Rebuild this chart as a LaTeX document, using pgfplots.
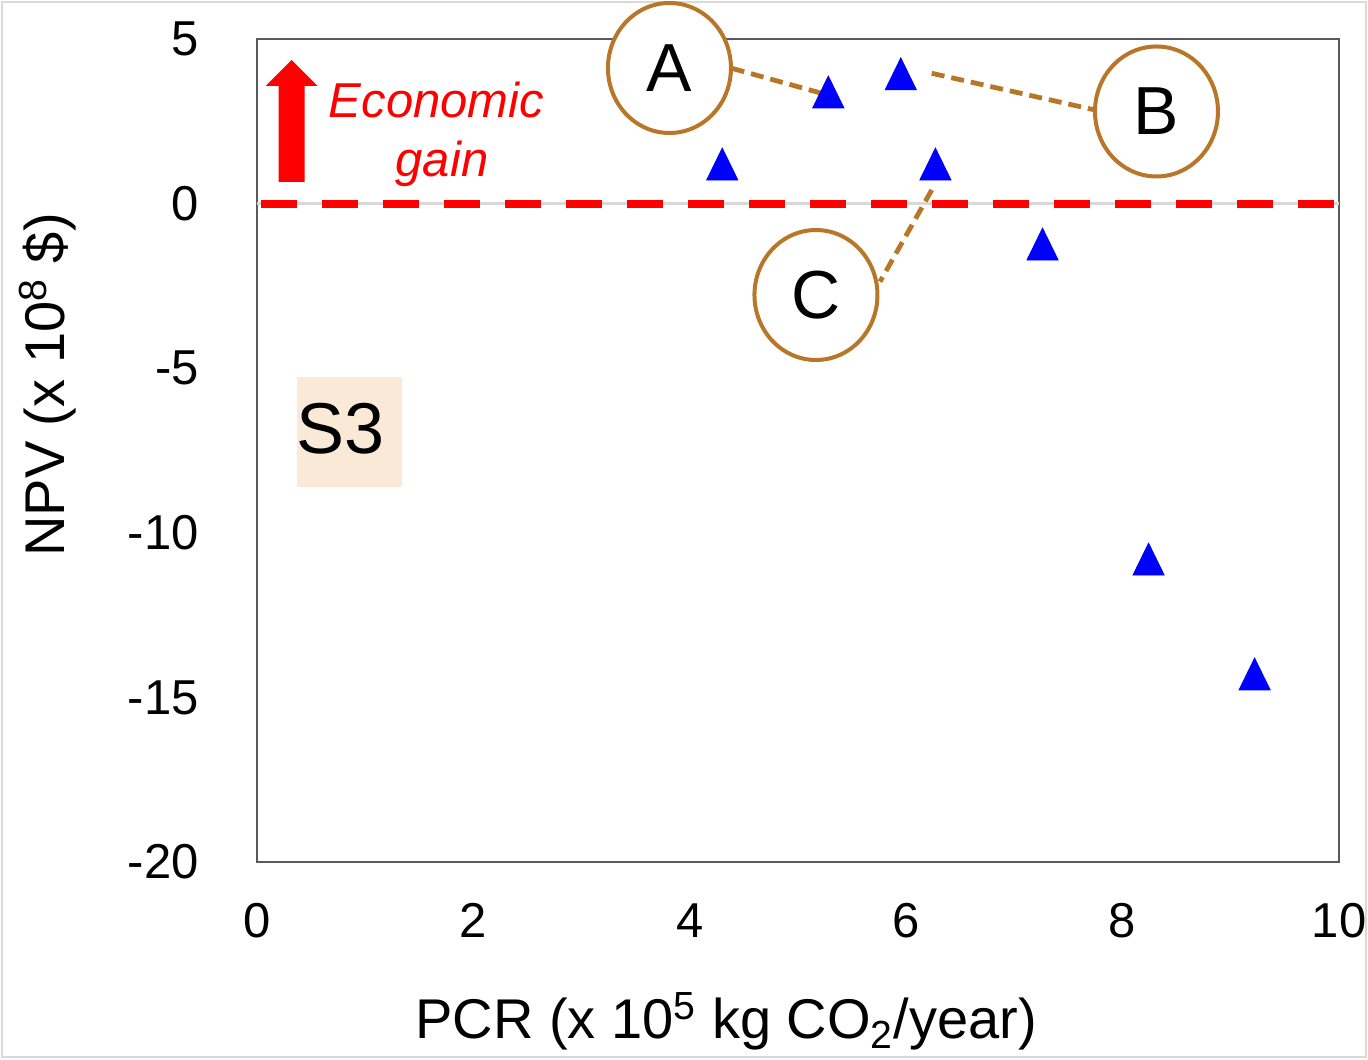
\documentclass[border=0pt]{standalone}
\usepackage{fontspec}
\setmainfont{Liberation Sans}
\usepackage{pgfplots}
\pgfplotsset{compat=1.18}
\definecolor{axgray}{RGB}{89,89,89}
\definecolor{brn}{RGB}{184,118,40}
\definecolor{peach}{RGB}{251,233,215}
\definecolor{zgray}{RGB}{217,217,217}
\begin{document}
\begin{tikzpicture}
\path[use as bounding box] (-128.5pt,-98.5pt) rectangle (555.5pt,431pt);
\draw[zgray, line width=1pt] (-127.5pt,-97.5pt) rectangle (554.5pt,430pt);
\begin{axis}[
  at={(0pt,0pt)}, anchor=south west,
  scale only axis, width=541pt, height=411.5pt,
  xmin=0, xmax=10, ymin=-20, ymax=5,
  xtick={0,2,4,6,8,10}, xticklabels={0,2,4,6,8,10},
  ytick={-20,-15,-10,-5,0,5}, yticklabels={-20,-15,-10,-5,0,5},
  major tick length=0pt,
  axis line style={axgray, line width=1.2pt},
  tick label style={font=\fontsize{24.5}{28}\selectfont, inner sep=0pt},
  xticklabel style={anchor=north, yshift=-20.5pt},
  yticklabel style={anchor=east, xshift=-29pt},
  clip=false,
]
% zero line
\draw[zgray, line width=1.2pt] (axis cs:0,0) -- (axis cs:10,0);
\draw[red, line width=4pt, dash pattern=on 18pt off 12.5pt] (axis cs:0.04,0) -- (axis cs:10,0);
% economic gain arrow and text
\fill[red] (axis cs:0.321,0.656) ++(-6.5pt,0pt) -- ++(0pt,48pt) -- ++(-6.5pt,0pt) -- ++(13pt,13pt) -- ++(13pt,-13pt) -- ++(-6.5pt,0pt) -- ++(0pt,-48pt) -- cycle;
\node[anchor=base, text=red, font=\fontsize{24.5}{28}\selectfont\itshape] at (axis cs:1.659,2.63) {Economic};
\node[anchor=base, text=red, font=\fontsize{24.5}{28}\selectfont\itshape] at (axis cs:1.71,0.82) {gain};
% S3 box
\fill[peach] (axis cs:0.370,-5.258) rectangle (axis cs:1.340,-8.600);
\node[font=\fontsize{36}{40}\selectfont] at (axis cs:0.776,-6.847) {S3};
% connectors
\draw[brn, line width=2.4pt, dash pattern=on 6.5pt off 3.5pt] (axis cs:4.387,4.11) -- (axis cs:5.219,3.35);
\draw[brn, line width=2.4pt, dash pattern=on 6.5pt off 3.5pt] (axis cs:6.236,3.958) -- (axis cs:7.745,2.843);
\draw[brn, line width=2.4pt, dash pattern=on 6.5pt off 3.5pt] (axis cs:6.236,0.413) -- (axis cs:5.758,-2.372);
% circles
\draw[brn, line width=2pt, fill=white] (axis cs:3.812,4.119) ellipse [x radius=30.75pt, y radius=32.5pt];
\node[font=\fontsize{34}{38}\selectfont] at (axis cs:3.812,4.119) {A};
\draw[brn, line width=2pt, fill=white] (axis cs:8.313,2.798) ellipse [x radius=30.75pt, y radius=32.5pt];
\node[font=\fontsize{34}{38}\selectfont] at (axis cs:8.313,2.798) {B};
\draw[brn, line width=2pt, fill=white] (axis cs:5.166,-2.777) ellipse [x radius=30.75pt, y radius=32.5pt];
\node[font=\fontsize{34}{38}\selectfont] at (axis cs:5.166,-2.777) {C};
% data
\addplot[only marks, mark=triangle*, mark size=9pt, color=blue,
  mark options={yshift=-2.65pt, yscale=1.18}] coordinates {
  (4.30,1.20) (5.28,3.39) (5.95,3.94) (6.27,1.20) (7.26,-1.23) (8.24,-10.80) (9.22,-14.29)
};
% axis labels
\node[anchor=base, rotate=90, font=\fontsize{28}{32}\selectfont] at (axis description cs:-0.1775,0.5796) {NPV (x 10\textsuperscript{8} \$)};
\node[anchor=base, font=\fontsize{28}{32}\selectfont] at (axis description cs:0.4335,-0.2139) {PCR (x 10\textsuperscript{5} kg CO\textsubscript{2}/year)};
\end{axis}
\end{tikzpicture}
\end{document}
